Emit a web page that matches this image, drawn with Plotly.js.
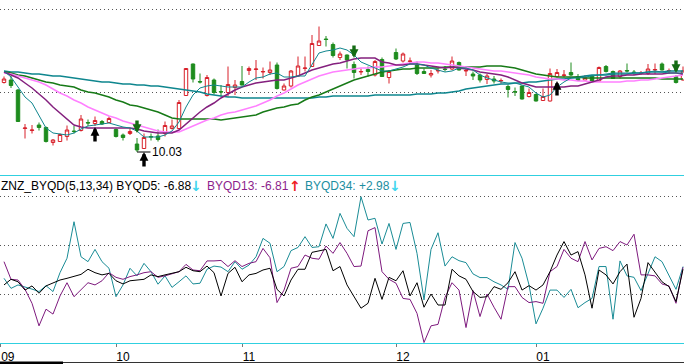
<!DOCTYPE html>
<html><head><meta charset="utf-8">
<script src="https://cdn.plot.ly/plotly-3.0.1.min.js"></script>
<style>html,body{margin:0;padding:0;background:#fff;} #chart{width:684px;height:364px;}</style>
</head><body><div id="chart"></div>
<script>
const openP = [11.42,11.47,11.27,10.50,10.46,10.57,10.52,10.22,10.24,10.34,
 10.45,10.46,10.62,10.60,10.64,10.62,10.48,10.37,10.40,10.19,
 10.10,10.34,10.35,10.40,10.50,10.50,11.16,11.79,11.44,11.16,
 11.47,11.24,11.22,11.32,11.44,11.66,11.68,11.63,11.62,11.77,
 11.27,11.35,11.55,11.70,11.74,12.16,12.29,12.18,11.92,11.97,
 11.78,11.63,11.68,11.57,11.88,11.52,12.02,11.85,11.84,11.77,
 11.64,11.57,11.65,11.69,11.69,11.82,11.65,11.59,11.57,11.48,
 11.49,11.45,11.34,11.24,11.35,11.14,11.18,11.06,11.05,11.54,
 11.56,11.62,11.54,11.47,11.55,11.45,11.74,11.64,11.54,11.66,
 11.63,11.60,11.60,11.67,11.79,11.65,11.54,11.47];
const highP = [11.54,11.55,11.29,10.59,10.57,10.62,10.54,10.29,10.40,10.56,
 10.55,10.77,10.68,10.74,10.67,10.74,10.50,10.40,10.50,10.31,
 10.40,10.40,10.48,10.64,10.68,11.07,11.71,11.80,11.60,11.57,
 11.50,11.37,11.74,11.47,11.75,11.74,11.87,11.72,11.84,11.82,
 11.40,11.67,11.94,11.94,12.37,12.54,12.35,12.22,12.04,11.98,
 11.84,11.70,11.74,11.87,11.92,11.67,12.10,12.02,11.92,11.84,
 11.70,11.67,11.70,11.75,11.94,11.84,11.70,11.64,11.60,11.59,
 11.55,11.50,11.38,11.32,11.36,11.30,11.20,11.30,11.70,11.69,
 11.67,11.82,11.59,11.57,11.57,11.74,11.77,11.66,11.67,11.80,
 11.67,11.65,11.79,11.80,11.82,11.70,11.57,11.74];
const lowP = [11.40,11.31,10.63,10.30,10.40,10.46,10.22,10.16,10.23,10.26,
 10.40,10.44,10.55,10.55,10.57,10.61,10.32,10.26,10.37,10.03,
 10.09,10.26,10.24,10.34,10.48,10.49,11.15,11.42,11.40,11.14,
 11.18,11.14,11.14,11.17,11.36,11.57,11.47,11.50,11.57,11.28,
 11.26,11.32,11.54,11.64,11.73,12.15,12.14,11.92,11.87,11.70,
 11.50,11.57,11.54,11.54,11.53,11.40,11.87,11.82,11.80,11.57,
 11.59,11.52,11.60,11.64,11.67,11.66,11.55,11.47,11.42,11.39,
 11.40,11.40,11.12,11.15,11.08,11.12,11.04,11.05,11.04,11.52,
 11.52,11.55,11.45,11.46,11.44,11.44,11.62,11.49,11.50,11.62,
 11.57,11.57,11.57,11.59,11.66,11.59,11.40,11.46];
const closeP = [11.49,11.36,10.64,10.51,10.47,10.52,10.24,10.27,10.38,10.47,
 10.44,10.69,10.61,10.66,10.59,10.70,10.34,10.32,10.44,10.07,
 10.32,10.33,10.28,10.56,10.55,11.02,11.70,11.49,11.43,11.52,
 11.22,11.23,11.38,11.37,11.37,11.70,11.69,11.64,11.67,11.30,
 11.35,11.65,11.75,11.71,12.20,12.25,12.28,11.96,11.99,11.87,
 11.62,11.64,11.64,11.84,11.54,11.64,11.89,11.99,11.85,11.60,
 11.60,11.60,11.66,11.68,11.85,11.67,11.66,11.55,11.47,11.55,
 11.45,11.46,11.28,11.23,11.09,11.22,11.05,11.14,11.60,11.62,
 11.57,11.57,11.46,11.52,11.45,11.72,11.64,11.50,11.65,11.65,
 11.62,11.61,11.69,11.68,11.67,11.66,11.42,11.65];

const maFast = [11.65,11.53,11.33,11.13,11.01,10.77,10.51,10.41,10.39,10.37,
 10.41,10.49,10.55,10.57,10.59,10.61,10.57,10.53,10.51,10.45,
 10.33,10.33,10.33,10.37,10.45,10.63,10.93,11.17,11.31,11.35,
 11.37,11.35,11.33,11.33,11.33,11.43,11.51,11.53,11.59,11.61,
 11.53,11.53,11.55,11.55,11.77,12.01,12.05,12.07,12.11,12.07,
 11.97,11.83,11.77,11.71,11.65,11.65,11.69,11.73,11.79,11.79,
 11.77,11.71,11.67,11.63,11.65,11.71,11.71,11.67,11.57,11.51,
 11.47,11.43,11.41,11.41,11.37,11.33,11.21,11.13,11.17,11.33,
 11.43,11.51,11.51,11.53,11.55,11.57,11.59,11.61,11.61,11.61,
 11.61,11.61,11.63,11.65,11.63,11.61,11.61,11.61];
const maPurple = [11.63,11.57,11.51,11.41,11.31,11.19,11.07,10.93,10.81,10.69,
 10.57,10.53,10.51,10.51,10.51,10.51,10.51,10.51,10.51,10.49,
 10.45,10.43,10.41,10.41,10.41,10.47,10.59,10.71,10.83,10.93,
 11.01,11.11,11.19,11.27,11.33,11.37,11.41,11.43,11.45,11.47,
 11.47,11.51,11.55,11.61,11.67,11.71,11.75,11.79,11.81,11.85,
 11.89,11.91,11.91,11.91,11.83,11.81,11.77,11.77,11.79,11.79,
 11.77,11.75,11.73,11.71,11.73,11.71,11.69,11.67,11.63,11.61,
 11.59,11.57,11.53,11.47,11.41,11.37,11.33,11.33,11.33,11.33,
 11.33,11.35,11.35,11.39,11.43,11.47,11.53,11.55,11.55,11.57,
 11.57,11.59,11.59,11.59,11.59,11.61,11.61,11.59];
const maPink = [11.61,11.59,11.55,11.51,11.47,11.43,11.37,11.29,11.21,11.15,
 11.07,11.01,10.93,10.87,10.81,10.75,10.71,10.65,10.61,10.57,
 10.53,10.49,10.45,10.43,10.43,10.43,10.49,10.55,10.61,10.67,
 10.71,10.77,10.81,10.83,10.87,10.91,10.95,11.01,11.07,11.15,
 11.21,11.29,11.37,11.43,11.49,11.55,11.59,11.63,11.65,11.67,
 11.69,11.71,11.71,11.73,11.73,11.75,11.77,11.79,11.81,11.83,
 11.83,11.81,11.81,11.79,11.77,11.75,11.73,11.71,11.69,11.67,
 11.65,11.65,11.63,11.61,11.59,11.57,11.53,11.51,11.49,11.49,
 11.47,11.47,11.45,11.45,11.43,11.43,11.43,11.43,11.43,11.45,
 11.45,11.47,11.47,11.49,11.51,11.53,11.55,11.57];
const maGreen = [11.63,11.61,11.57,11.55,11.51,11.47,11.43,11.41,11.37,11.35,
 11.33,11.27,11.23,11.21,11.17,11.13,11.07,11.03,10.97,10.95,
 10.91,10.87,10.83,10.77,10.71,10.69,10.69,10.69,10.69,10.69,
 10.69,10.67,10.69,10.71,10.73,10.75,10.77,10.83,10.87,10.91,
 10.93,10.97,10.99,11.07,11.13,11.17,11.23,11.29,11.35,11.41,
 11.47,11.51,11.55,11.59,11.63,11.65,11.67,11.69,11.69,11.71,
 11.71,11.71,11.71,11.73,11.73,11.73,11.73,11.73,11.73,11.75,
 11.75,11.75,11.73,11.71,11.67,11.63,11.59,11.57,11.55,11.53,
 11.53,11.53,11.53,11.51,11.51,11.51,11.51,11.51,11.51,11.51,
 11.51,11.51,11.51,11.51,11.49,11.49,11.49,11.49];
const maSlow = [11.65,11.63,11.63,11.61,11.59,11.59,11.57,11.55,11.55,11.53,
 11.51,11.49,11.47,11.45,11.43,11.43,11.41,11.39,11.39,11.37,
 11.37,11.35,11.35,11.33,11.31,11.29,11.27,11.25,11.23,11.19,
 11.17,11.15,11.13,11.13,11.11,11.11,11.11,11.11,11.11,11.11,
 11.11,11.11,11.11,11.11,11.11,11.13,11.13,11.15,11.15,11.15,
 11.15,11.15,11.15,11.17,11.17,11.17,11.17,11.17,11.17,11.19,
 11.19,11.19,11.21,11.21,11.23,11.25,11.29,11.31,11.33,11.35,
 11.37,11.39,11.39,11.41,11.41,11.43,11.43,11.45,11.47,11.49,
 11.49,11.51,11.53,11.55,11.57,11.57,11.57,11.59,11.59,11.59,
 11.61,11.61,11.63,11.63,11.63,11.65,11.65,11.65];

const byqd5 = [-16.3,-14.0,-15.0,-18.4,-16.7,-19.7,-16.7,-15.4,-14.3,-13.6,
 -12.9,-12.0,-9.9,-11.3,-12.2,-11.6,-14.6,-15.9,-14.6,-14.3,
 -14.0,-12.2,-12.9,-12.2,-11.6,-10.9,-9.1,-10.5,-10.9,-8.6,
 -11.3,-20.8,-11.6,-9.1,-15.0,-12.2,-11.6,-10.2,-9.5,-18.1,
 -20.8,-14.3,-9.9,-9.9,-3.0,-2.4,-1.8,-10.5,-8.8,-16.3,
 -21.1,-25.8,-23.8,-13.6,-22.2,-13.2,-14.6,-10.5,-20.8,-15.4,
 -25.4,-20.0,-24.5,-24.5,-9.9,-12.6,-14.0,-19.0,-21.4,-21.1,
 -17.0,-18.1,-15.4,-10.9,-18.4,-16.6,-18.4,-16.3,-10.9,-4.1,
 1.4,-4.1,-2.7,-12.2,-25.8,-10.2,-12.2,-15.9,-10.9,-7.8,
 -29.5,-21.8,-7.2,-10.9,-15.0,-17.0,-23.1,-9.9];
const byqd13 = [-6.8,-14.0,-14.3,-18.1,-23.8,-33.0,-26.2,-28.2,-20.8,-15.4,
 -21.1,-18.1,-15.4,-16.3,-14.6,-11.3,-13.2,-14.0,-12.9,-12.2,
 -11.3,-10.9,-13.2,-12.6,-11.8,-10.9,-7.9,-10.2,-10.5,-6.5,
 -6.5,-6.3,-8.8,-6.4,-8.8,-7.5,-6.8,-1.4,-5.2,-23.5,
 -18.4,-9.5,-8.8,-4.1,-5.4,-5.8,-0.4,-3.4,1.0,-3.4,
 -8.8,-8.6,5.8,7.1,-10.9,-14.0,-15.6,-21.8,-22.2,-27.9,
 -39.8,-33.0,-32.4,-21.4,-15.4,-18.4,-33.7,-18.6,-29.2,-20.0,
 -25.4,-30.3,-17.0,-17.0,-21.4,-23.5,-23.1,-23.8,-10.9,-8.8,
 -1.8,-5.4,-6.8,1.4,-6.1,-1.4,-0.7,-2.3,1.4,0.0,
 4.4,-12.2,-12.2,-12.6,-15.9,-16.7,-23.8,-9.1];
const byqd34 = [-13.6,-17.7,-16.3,-17.0,-18.0,-19.0,-16.6,-19.0,-11.3,-5.4,
 9.5,-4.8,-6.8,-1.8,-6.8,-9.5,-21.1,-16.3,-9.5,-12.6,
 -7.5,-10.9,-16.0,-12.6,-17.3,-15.0,-12.6,-15.9,-15.6,-9.9,
 -8.6,-9.0,-10.9,-6.8,-9.9,-8.2,-4.8,2.7,0.7,-10.9,
 -8.8,-2.3,-1.0,3.4,-1.0,-0.7,8.6,2.7,12.9,6.8,
 3.4,19.7,10.2,10.9,0.4,8.8,-1.8,8.8,9.2,-3.4,
 -22.4,-1.8,5.0,-8.6,-4.8,-6.4,-7.2,-11.8,-13.3,-13.3,
 -15.0,-16.3,-18.1,1.0,-5.4,-16.3,-32.2,-25.8,-18.4,-18.4,
 -21.4,-18.1,-25.6,-23.5,-21.8,-8.8,-8.8,-30.3,-6.5,-12.6,
 -13.2,-18.6,-11.3,-4.8,-6.8,-12.2,-18.1,-8.8];

const monthTickIdx = [-0.45, 16, 34, 56, 76];
const monthTickText = ['09', '10', '11', '12', '01'];
const buyIdx = [13, 20, 79];
const buyPrice = [10.53, 10.03, 11.45];
const sellIdx = [19, 50, 96];
const sellPrice = [10.41, 11.91, 11.61];
const lowIdx = 19, lowPrice = 10.03, lowText = '10.03';
const oscGrid = [-20, 0, 20];
const priceGrid = [11.23, 12.89];

const idx = openP.map((_, i) => i);
const RED = '#d8202a', GREEN = '#1e8c1e', CYAN = '#30d0e0';
const FONT = '"Liberation Sans", Arial, sans-serif';

function line(y, color, width, xa, ya) {
  return {type: 'scatter', mode: 'lines', x: idx, y: y, xaxis: xa, yaxis: ya,
    line: {color: color, width: width}, hoverinfo: 'skip', showlegend: false};
}

const traces = [
  {type: 'candlestick', x: idx, open: openP, high: highP, low: lowP, close: closeP,
   xaxis: 'x', yaxis: 'y', whiskerwidth: 0, hoverinfo: 'skip', showlegend: false,
   increasing: {line: {color: RED, width: 1}, fillcolor: '#ffffff'},
   decreasing: {line: {color: GREEN, width: 1}, fillcolor: GREEN}},
  line(maSlow, '#0e868e', 1.6, 'x', 'y'),
  line(maGreen, '#177a17', 1.5, 'x', 'y'),
  line(maPink, '#ff80ff', 1.5, 'x', 'y'),
  line(maPurple, '#84207e', 1.5, 'x', 'y'),
  line(maFast, '#10868e', 1, 'x', 'y'),
  line(byqd34, '#1a8c96', 1, 'x2', 'y2'),
  line(byqd13, '#7e1a7e', 1, 'x2', 'y2'),
  line(byqd5, '#000000', 1, 'x2', 'y2')
];

const annotations = [];
buyIdx.forEach((xi, k) => annotations.push({xref: 'x', yref: 'y', x: xi, y: buyPrice[k],
  ax: 0, ay: 16, text: '', showarrow: true, arrowhead: 2, arrowsize: 0.52, arrowwidth: 3.4,
  arrowcolor: '#000000', standoff: 0}));
sellIdx.forEach((xi, k) => annotations.push({xref: 'x', yref: 'y', x: xi, y: sellPrice[k],
  ax: 0, ay: -14, text: '', showarrow: true, arrowhead: 2, arrowsize: 0.52, arrowwidth: 3.4,
  arrowcolor: '#146c14', standoff: 0}));
annotations.push({xref: 'x', yref: 'y', x: lowIdx, y: lowPrice, text: lowText, ax: 30, ay: 0,
  showarrow: true, arrowhead: 0, arrowwidth: 1, arrowcolor: '#000', standoff: 0,
  font: {size: 12, color: '#000', family: FONT}});

const legY = 1 - 185.5 / 364;
const ARROWFONT = '"DejaVu Sans", sans-serif';
const legend = [
  {t: 'ZNZ_BYQD(5,13,34) BYQD5: -6.88', x: 0, anchor: 'left', c: '#000000', f: FONT, s: 12},
  {t: '<b>↓</b>', x: 195.5, anchor: 'center', c: '#3ed6ee', f: ARROWFONT, s: 14},
  {t: 'BYQD13: -6.81', x: 206, anchor: 'left', c: '#8c1e8c', f: FONT, s: 12},
  {t: '<b>↑</b>', x: 294.5, anchor: 'center', c: '#ee2020', f: ARROWFONT, s: 14},
  {t: 'BYQD34: +2.98', x: 304, anchor: 'left', c: '#1c8ea0', f: FONT, s: 12},
  {t: '<b>↓</b>', x: 394.5, anchor: 'center', c: '#3ed6ee', f: ARROWFONT, s: 14}
];
legend.forEach(p => annotations.push({xref: 'paper', yref: 'paper', x: p.x / 684, y: legY,
  xanchor: p.anchor, yanchor: 'middle', text: p.t, showarrow: false, borderpad: 0,
  font: {size: p.s, color: p.c, family: p.f}}));

const shapes = [
  {type: 'line', xref: 'paper', yref: 'paper', x0: 0, x1: 1, y0: 1.5 / 364, y1: 1.5 / 364,
   line: {color: '#333', width: 1}},
  {type: 'rect', xref: 'paper', yref: 'paper', x0: 0, x1: 63 / 684, y0: 0, y1: 2.5 / 364,
   fillcolor: '#000', line: {width: 0}}
];

const xr = [-4 / 7, -4 / 7 + 684 / 7];
const gridY = {showticklabels: false, ticks: '', gridcolor: '#555', griddash: '1px,3px',
  gridwidth: 1, zeroline: false, showline: false, fixedrange: true};

const layout = {
  width: 684, height: 364, margin: {l: 0, r: 0, t: 0, b: 0, pad: 0},
  paper_bgcolor: '#ffffff', plot_bgcolor: '#ffffff', showlegend: false,
  font: {family: FONT, size: 12, color: '#000'},
  xaxis: {domain: [0, 1], anchor: 'y', range: xr, showgrid: false, zeroline: false,
    showticklabels: false, ticks: '', showline: true, linecolor: CYAN, linewidth: 1,
    rangeslider: {visible: false}, fixedrange: true},
  yaxis: Object.assign({domain: [1 - 175 / 364, 1], range: [9.57, 13.07], tickvals: priceGrid}, gridY),
  xaxis2: {domain: [0, 1], anchor: 'y2', range: xr, showgrid: false, zeroline: false,
    showline: true, linecolor: CYAN, linewidth: 1, ticks: 'outside', ticklen: 3,
    tickcolor: '#777', tickwidth: 1, tickmode: 'array', tickvals: monthTickIdx,
    ticktext: monthTickText, tickfont: {size: 12, color: '#000', family: FONT},
    ticklabelshift: 7, rangeslider: {visible: false}, fixedrange: true},
  yaxis2: Object.assign({domain: [1 - 343 / 364, 1 - 175 / 364], range: [-40, 28.57], tickvals: oscGrid}, gridY),
  annotations: annotations,
  shapes: shapes
};

Plotly.newPlot('chart', traces, layout, {staticPlot: true, displayModeBar: false});
</script>
</body></html>
